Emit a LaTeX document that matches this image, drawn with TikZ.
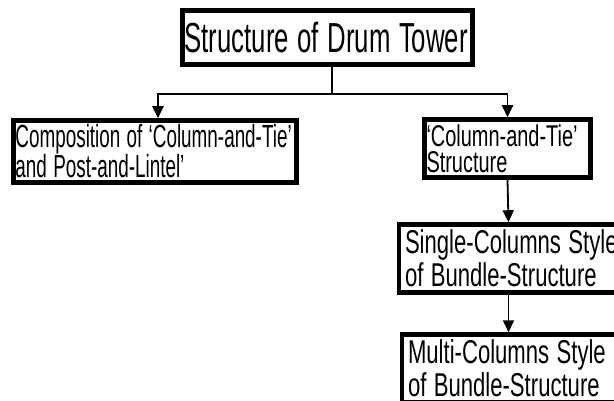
\documentclass[tikz,border=0pt]{standalone}
\usepackage{fontspec}
\setmainfont{Liberation Sans}
\usepackage{graphicx}
\usetikzlibrary{arrows.meta}
\newcommand\xs{1}
\newcommand\tline[1]{\scalebox{\xs}[1]{#1}}
\tikzset{
  box/.style={draw=black, line width=4.5pt, fill=white, inner xsep=1pt, inner ysep=0pt,
    align=left, anchor=center},
  conn/.style={draw=black, line width=1.8pt},
  arr/.style={conn, -{Triangle[length=12pt,width=11pt]}}
}
\begin{document}
\begin{tikzpicture}[x=1pt,y=-1pt]
\useasboundingbox (0,0) rectangle (614,401);
\clip (0,0) rectangle (614,401);
\fill[white] (0,0) rectangle (614,401);
\node[box, minimum width=290pt, minimum height=54pt, text width=286pt,
  font={\fontsize{42}{42}\selectfont\renewcommand\xs{0.613}}] (top) at (327.5,37.5)
  {\tline{Structure of Drum Tower}};
\node[box, minimum width=283pt, minimum height=62pt, text width=279pt,
  font={\fontsize{32}{30}\selectfont\renewcommand\xs{0.59}}] (left) at (155,151.5)
  {\tline{Composition of ‘Column-and-Tie’}\\\tline{and Post-and-Lintel’}};
\node[box, minimum width=166pt, minimum height=58pt, text width=162pt,
  font={\fontsize{30}{26}\selectfont\renewcommand\xs{0.665}}] (r1) at (507.5,148.5)
  {\tline{‘Column-and-Tie’}\\\tline{Structure}};
\node[box, minimum width=219pt, minimum height=68pt, text width=207pt,
  font={\fontsize{33}{33}\selectfont\renewcommand\xs{0.67}}] (r2) at (508.5,258.5)
  {\tline{Single-Columns Style}\\\tline{of Bundle-Structure}};
\node[box, minimum width=216pt, minimum height=68pt, text width=204pt,
  font={\fontsize{33}{33}\selectfont\renewcommand\xs{0.67}}] (r3) at (510,368.5)
  {\tline{Multi-Columns Style}\\\tline{of Bundle-Structure}};
\coordinate (j) at (332,94);
\draw[conn] (top.south -| j) -- (j);
\draw[arr] (j) -| ([xshift=3pt]left.north);
\draw[arr] (j) -| (r1.north);
\draw[arr] (r1.south) -- (r2.north);
\draw[arr] (r2.south) -- (r2.south |- r3.north);
\end{tikzpicture}
\end{document}
